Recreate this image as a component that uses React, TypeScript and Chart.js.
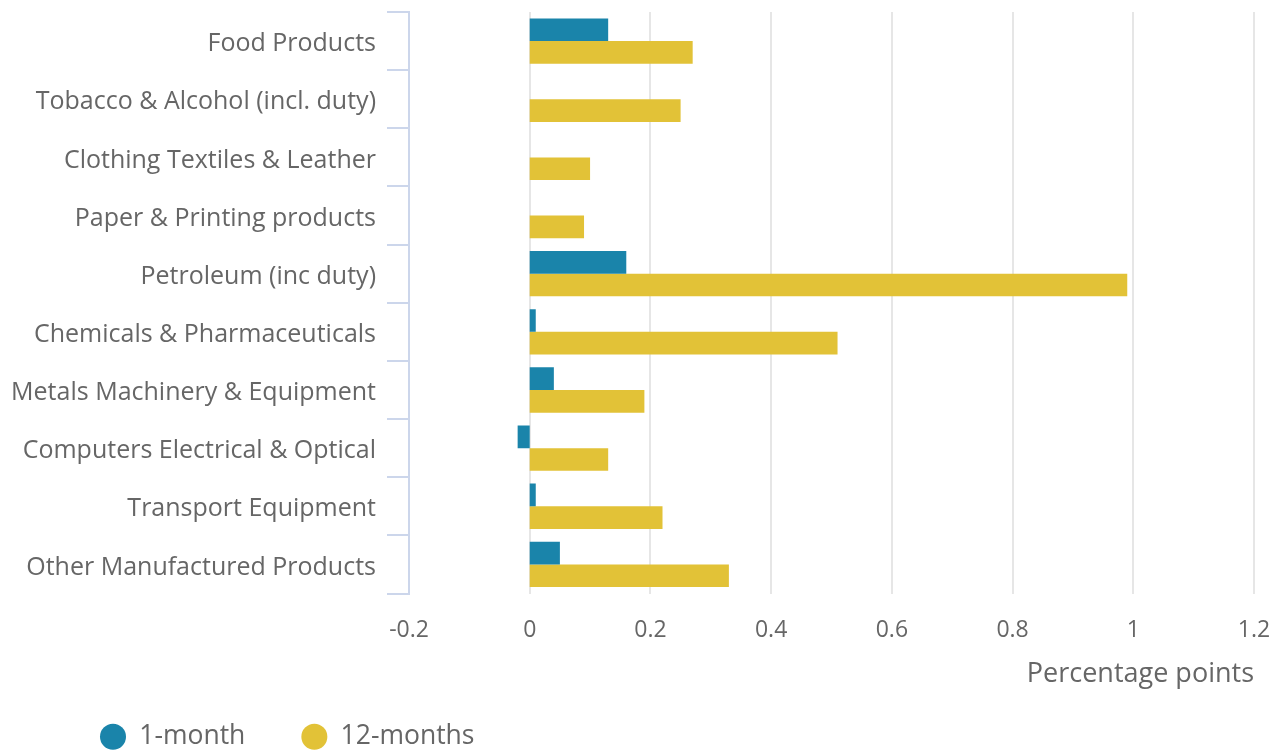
import React, { useEffect, useRef } from "react";
import { Chart, registerables } from "chart.js";

Chart.register(...registerables);

const categories: string[] = [
  "Food Products",
  "Tobacco & Alcohol (incl. duty)",
  "Clothing Textiles & Leather",
  "Paper & Printing products",
  "Petroleum (inc duty)",
  "Chemicals & Pharmaceuticals",
  "Metals Machinery & Equipment",
  "Computers Electrical & Optical",
  "Transport Equipment",
  "Other Manufactured Products",
];

const oneMonth: number[] = [0.13, 0, 0, 0, 0.16, 0.01, 0.04, -0.02, 0.01, 0.05];
const twelveMonths: number[] = [0.27, 0.25, 0.1, 0.09, 0.99, 0.51, 0.19, 0.13, 0.22, 0.33];

const seriesNames: string[] = ["1-month", "12-months"];
const axisTitle = "Percentage points";
const xMin = -0.2;
const xMax = 1.2;
const xStep = 0.2;

const BLUE = "#1a84aa";
const YELLOW = "#e2c237";
const TEXT = "#666666";
const FONT = "'Open Sans', sans-serif";

const legendShift = {
  id: "legendShift",
  afterLayout(chart: any) {
    const l = chart.legend;
    if (l) {
      l.left += 44;
      l.right += 44;
    }
  },
};

export default function App() {
  const ref = useRef<HTMLCanvasElement | null>(null);

  useEffect(() => {
    if (!ref.current) return;
    const chart = new Chart(ref.current, {
      type: "bar",
      data: {
        labels: categories,
        datasets: [
          {
            label: seriesNames[0],
            data: oneMonth,
            backgroundColor: BLUE,
            borderWidth: 0,
            categoryPercentage: 0.78,
            barPercentage: 1,
          },
          {
            label: seriesNames[1],
            data: twelveMonths,
            backgroundColor: YELLOW,
            borderWidth: 0,
            categoryPercentage: 0.78,
            barPercentage: 1,
          },
        ],
      },
      plugins: [legendShift],
      options: {
        indexAxis: "y",
        responsive: false,
        animation: false,
        layout: { padding: { left: 0, right: 30, top: 12, bottom: -9 } },
        plugins: {
          tooltip: { enabled: false },
          legend: {
            position: "bottom",
            align: "start",
            labels: {
              usePointStyle: true,
              pointStyle: "circle",
              pointStyleWidth: 26,
              boxHeight: 18.4,
              padding: 56,
              color: TEXT,
              font: { family: FONT, size: 26.5 },
            },
          },
        },
        scales: {
          x: {
            type: "linear",
            min: xMin,
            max: xMax,
            afterFit: (s: any) => {
              s.height = 74;
              s.paddingLeft = 0;
              s.paddingRight = 0;
            },
            ticks: {
              stepSize: xStep,
              padding: 23,
              color: TEXT,
              font: { family: FONT, size: 23 },
              callback: (v: any) => String(Math.round(Number(v) * 10) / 10),
            },
            grid: { color: "#e6e6e6", lineWidth: 2, drawTicks: false },
            border: { display: false },
            title: {
              display: true,
              text: axisTitle,
              align: "end",
              color: TEXT,
              font: { family: FONT, size: 27 },
              padding: { top: 0, bottom: -23 },
            },
          },
          y: {
            afterFit: (s: any) => {
              s.width = 409;
              s.paddingTop = 0;
              s.paddingBottom = 0;
            },
            ticks: {
              padding: 11,
              labelOffset: 3,
              color: TEXT,
              font: { family: FONT, size: 25 },
            },
            grid: {
              offset: true,
              drawOnChartArea: false,
              drawTicks: true,
              tickLength: 22,
              color: "#ccd6eb",
              lineWidth: 2,
            },
            border: { display: true, color: "#ccd6eb", width: 2 },
          },
        },
      },
    });
    return () => chart.destroy();
  }, []);

  return (
    <div style={{ position: "absolute", left: 0, top: 0, width: 1284, height: 751, background: "#ffffff" }}>
      <canvas ref={ref} width={1284} height={751} style={{ display: "block" }} />
    </div>
  );
}
